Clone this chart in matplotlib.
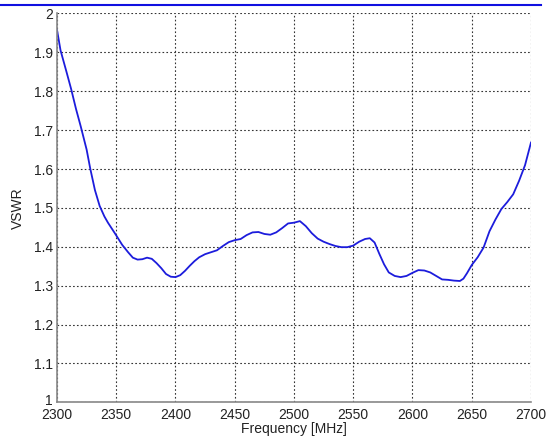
import matplotlib
matplotlib.use('Agg')
import matplotlib.pyplot as plt
import matplotlib.transforms as mtransforms
from matplotlib.lines import Line2D

freq = [2300, 2303, 2308, 2312, 2316, 2320, 2325, 2328, 2332, 2336, 2340,
        2343, 2349, 2355, 2360, 2364, 2368, 2372, 2376, 2380, 2384, 2388,
        2392, 2396, 2400, 2404, 2408, 2412, 2416, 2420, 2425, 2430, 2435,
        2440, 2445, 2450, 2455, 2460, 2465, 2470, 2475, 2480, 2485, 2490,
        2495, 2500, 2505, 2510, 2515, 2520, 2525, 2530, 2535, 2540, 2545,
        2550, 2555, 2560, 2564, 2568, 2572, 2576, 2580, 2585, 2590, 2595,
        2600, 2605, 2610, 2615, 2620, 2625, 2630, 2635, 2640, 2643, 2646,
        2650, 2655, 2660, 2665, 2670, 2675, 2680, 2685, 2690, 2695, 2700]
vswr = [1.958, 1.905, 1.850, 1.805, 1.755, 1.710, 1.650, 1.602, 1.546, 1.505, 1.478,
        1.462, 1.434, 1.405, 1.386, 1.372, 1.367, 1.368, 1.372, 1.369, 1.358, 1.345,
        1.330, 1.323, 1.322, 1.327, 1.338, 1.351, 1.363, 1.373, 1.381, 1.386, 1.391,
        1.402, 1.412, 1.417, 1.420, 1.430, 1.437, 1.438, 1.433, 1.431, 1.437, 1.448,
        1.460, 1.462, 1.466, 1.453, 1.435, 1.421, 1.413, 1.407, 1.402, 1.399, 1.399,
        1.403, 1.413, 1.420, 1.422, 1.411, 1.382, 1.355, 1.334, 1.325, 1.322, 1.325,
        1.333, 1.340, 1.339, 1.334, 1.325, 1.316, 1.315, 1.313, 1.312, 1.318, 1.332,
        1.353, 1.373, 1.398, 1.440, 1.470, 1.497, 1.515, 1.535, 1.570, 1.610, 1.668]

x_ticks = list(range(2300, 2701, 50))
y_ticks = [1 + i / 10 for i in range(11)]
y_labels = ['1', '1.1', '1.2', '1.3', '1.4', '1.5', '1.6', '1.7', '1.8', '1.9', '2']

plt.rcParams['font.family'] = ['Liberation Sans', 'DejaVu Sans']

fig = plt.figure(figsize=(5.47, 4.38), dpi=100)
ax = fig.add_axes([0.1042, 0.0815, 0.8665, 0.8877])

ax.plot(freq, vswr, color='#1c1cdc', linewidth=1.3)

ax.set_xlim(2300, 2700)
ax.set_ylim(1, 2)
ax.set_xticks(x_ticks)
ax.set_yticks(y_ticks)
ax.set_yticklabels(y_labels)
ax.tick_params(length=0, labelsize=10, labelcolor='#222222')
ax.tick_params(axis='x', pad=4)
ax.tick_params(axis='y', pad=3)
ax.grid(True, linestyle=(0, (1.5, 2)), color='#333333', linewidth=0.8)

# the lowest y label sits a little above its tick, as in the original
lbl = ax.get_yticklabels()[0]
lbl.set_transform(lbl.get_transform() +
                  mtransforms.ScaledTranslation(0, 3 / 100, fig.dpi_scale_trans))

for side in ['top', 'right']:
    ax.spines[side].set_visible(False)
for side in ['left', 'bottom']:
    ax.spines[side].set_color('#888888')
    ax.spines[side].set_linewidth(1.2)

ax.set_xlabel('Frequency [MHz]', fontsize=10, labelpad=0, color='#222222')
ax.set_ylabel('VSWR', fontsize=10, labelpad=6, color='#222222')

# blue rule along the top of the page
fig.add_artist(Line2D([0, 0.989], [0.9886, 0.9886], color='#1010e0', linewidth=1.5,
                      transform=fig.transFigure))

fig.savefig('out.png', dpi=100)
